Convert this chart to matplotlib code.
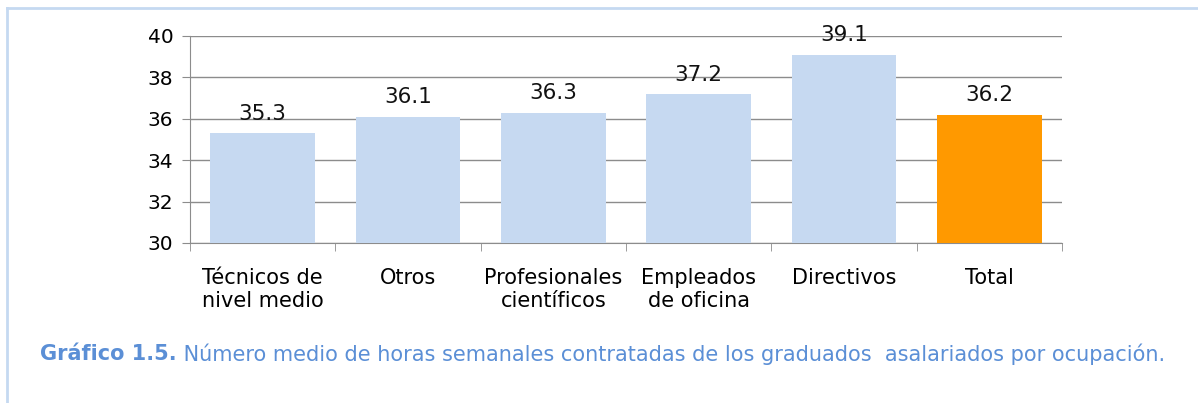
import matplotlib.pyplot as plt
from matplotlib.lines import Line2D
import numpy as np

# data
categories = ["Técnicos de\nnivel medio", "Otros", "Profesionales\ncientíficos",
              "Empleados\nde oficina", "Directivos", "Total"]
values = [35.3, 36.1, 36.3, 37.2, 39.1, 36.2]
bar_colors = ["#c6d9f1"] * 5 + ["#ff9900"]
y_ticks = [30, 32, 34, 36, 38, 40]

caption_bold = "Gráfico 1.5."
caption_text = " Número medio de horas semanales contratadas de los graduados  asalariados por ocupación."

W, H = 1198, 403
fig = plt.figure(figsize=(W / 100, H / 100), dpi=100)
ax = fig.add_axes([190 / W, 1 - 243 / H, (1062 - 190) / W, (243 - 36) / H])

x = np.arange(len(categories))
bars = ax.bar(x, [v - 30 for v in values], bottom=30, width=0.72,
              color=bar_colors, zorder=3)

for xi, v in zip(x, values):
    ax.text(xi, v + 0.45, f"{v:.1f}", ha="center", va="bottom",
            fontsize=15.5, color="#111111", zorder=4)

ax.set_xlim(-0.5, len(categories) - 0.5)
ax.set_ylim(30, 40)
ax.set_yticks(y_ticks)
ax.set_yticklabels([str(t) for t in y_ticks], fontsize=14.5)
ax.yaxis.grid(True, color="#8c8c8c", linewidth=1.0, zorder=0)

# category labels without ticks at centres, ticks at boundaries
ax.set_xticks(x)
ax.set_xticklabels(categories, fontsize=15, linespacing=1.2)
ax.tick_params(axis="x", length=0, pad=18)
ax.set_xticks(np.arange(-0.5, len(categories)), minor=True)
ax.tick_params(axis="x", which="minor", length=6, color="#8c8c8c", direction="out")
ax.tick_params(axis="y", length=6, color="#8c8c8c", pad=6)

for side in ["top", "right"]:
    ax.spines[side].set_visible(False)
for side in ["left", "bottom"]:
    ax.spines[side].set_color("#8c8c8c")

# caption
t1 = fig.text(40 / W, 1 - 354 / H, caption_bold, fontsize=15, fontweight="bold",
              color="#5b8fd6", va="center")
fig.canvas.draw()
bb = t1.get_window_extent()
fig.text(bb.x1 / W, 1 - 354 / H, caption_text, fontsize=15, color="#5b8fd6", va="center")

# frame lines
fig.add_artist(Line2D([7 / W, 1], [1 - 8 / H] * 2, color="#c5d9f1", linewidth=2,
                      transform=fig.transFigure))
fig.add_artist(Line2D([7 / W] * 2, [0, 1 - 8 / H], color="#c5d9f1", linewidth=2,
                      transform=fig.transFigure))

fig.savefig("out.png", dpi=100)
